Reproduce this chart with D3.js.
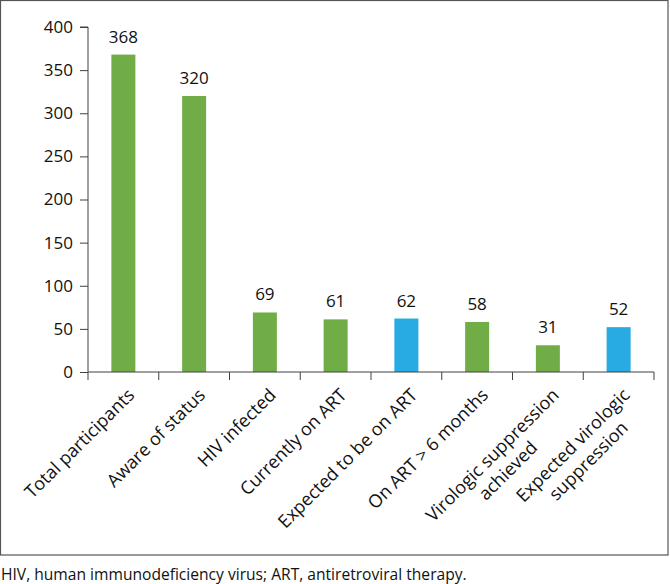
<!DOCTYPE html>
<html>
<head>
<meta charset="utf-8">
<script src="https://cdn.jsdelivr.net/npm/d3@7"></script>
<style>
  html, body { margin: 0; padding: 0; background: #fff; }
  svg { display: block; }
  text { font-family: "Open Sans", Lato, sans-serif; fill: #111; }
</style>
</head>
<body>
<svg id="chart" width="670" height="584"></svg>
<script>
const categories = [
  "Total participants",
  "Aware of status",
  "HIV infected",
  "Currently on ART",
  "Expected to be on ART",
  "On ART > 6 months",
  "Virologic suppression\nachieved",
  "Expected virologic\nsuppression"
];
const values = [368, 320, 69, 61, 62, 58, 31, 52];
const kinds = ["observed", "observed", "observed", "observed", "expected", "observed", "observed", "expected"];
const yTicks = [0, 50, 100, 150, 200, 250, 300, 350, 400];
const footnote = "HIV, human immunodeficiency virus; ART, antiretroviral therapy.";

(function () {
const FONT = "'Open Sans', Lato, sans-serif";
const colors = { observed: "#70AD47", expected: "#27ABE2" };
const svg = d3.select("#chart");

// frame
svg.append("rect").attr("x", 0.5).attr("y", 0.5).attr("width", 667.5).attr("height", 554.5)
  .attr("fill", "none").attr("stroke", "#555").attr("stroke-width", 1.2);

const mLeft = 88, mRight = 654, mTop = 27, mBottom = 372;
const x = d3.scaleBand().domain(d3.range(categories.length)).range([mLeft, mRight]).paddingInner(0).paddingOuter(0);
const y = d3.scaleLinear().domain([0, 400]).range([mBottom, mTop]);
const barW = 24;

// bars
svg.selectAll("rect.bar").data(values).enter().append("rect")
  .attr("class", "bar")
  .attr("x", (d, i) => x(i) + x.bandwidth() / 2 - barW / 2)
  .attr("y", d => y(d))
  .attr("width", barW)
  .attr("height", d => y(0) - y(d))
  .attr("fill", (d, i) => colors[kinds[i]]);

// value labels
svg.selectAll("text.val").data(values).enter().append("text")
  .attr("class", "val")
  .attr("x", (d, i) => x(i) + x.bandwidth() / 2)
  .attr("y", d => y(d) - 12)
  .attr("text-anchor", "middle")
  .attr("font-size", 17)
  .text(d => d);

// y axis
const yAxis = d3.axisLeft(y).tickValues(yTicks).tickSize(8).tickPadding(7);
const gy = svg.append("g").attr("transform", `translate(${mLeft},0)`).call(yAxis);
gy.select(".domain").attr("stroke", "#404040").attr("d", `M-8,${mTop}H0V${mBottom}`);
gy.selectAll(".tick line").attr("stroke", "#404040");
gy.selectAll(".tick text").attr("font-size", 17).attr("font-family", FONT).attr("fill", "#111");

// x axis line + ticks at band boundaries
svg.append("line").attr("x1", mLeft).attr("x2", mRight).attr("y1", mBottom).attr("y2", mBottom)
  .attr("stroke", "#404040");
const bounds = d3.range(categories.length + 1).map(i => i < categories.length ? x(i) : mRight);
svg.selectAll("line.xt").data(bounds).enter().append("line")
  .attr("x1", d => d).attr("x2", d => d).attr("y1", mBottom).attr("y2", mBottom + 8)
  .attr("stroke", "#404040");

// rotated category labels
const fs = 18, lh = 22;
categories.forEach((c, i) => {
  const lines = c.split("\n");
  const g = svg.append("g")
    .attr("transform", `translate(${x(i) + x.bandwidth() / 2 + 3},${mBottom + 15}) rotate(-45)`);
  const texts = lines.map((l, j) => g.append("text")
    .attr("font-size", fs)
    .attr("y", j * lh)
    .attr("dy", "0.72em")
    .attr("text-anchor", "middle")
    .text(l));
  const W = d3.max(texts, t => t.node().getComputedTextLength());
  texts.forEach(t => t.attr("x", -W / 2));
});

// footnote
svg.append("text").attr("x", 1).attr("y", 580).attr("font-size", 15.6).text(footnote);
})();
</script>
</body>
</html>
